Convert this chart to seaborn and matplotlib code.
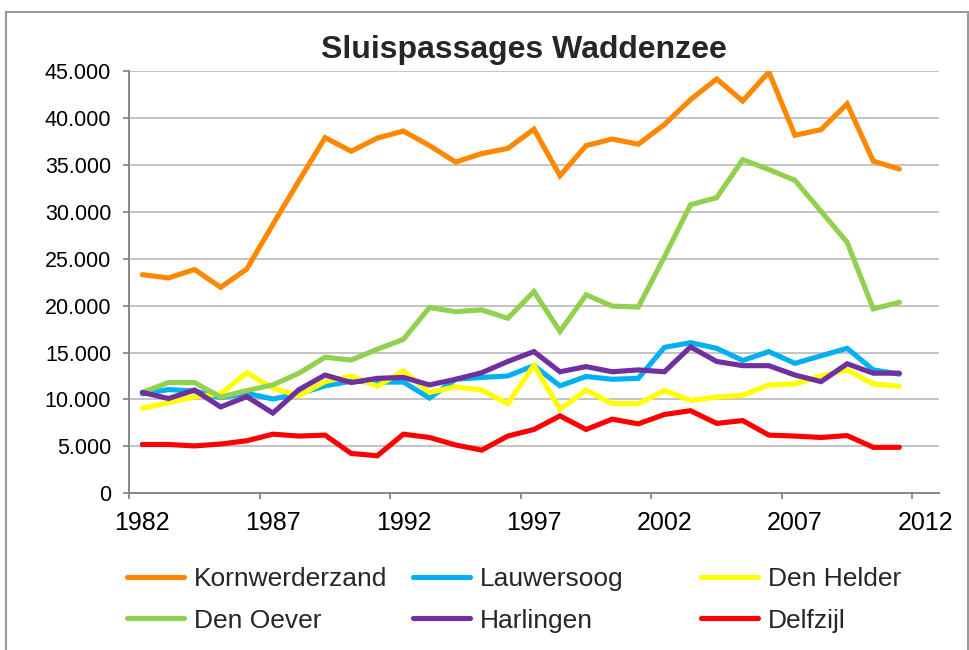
import numpy as np
import pandas as pd
import matplotlib
matplotlib.use("Agg")
import matplotlib.pyplot as plt
import matplotlib.ticker as mticker
from matplotlib.patches import Rectangle
import seaborn as sns

years = [1982, 1983, 1984, 1985, 1986, 1987, 1988, 1989, 1990, 1991,
         1992, 1993, 1994, 1995, 1996, 1997, 1998, 1999, 2000, 2001,
         2002, 2003, 2004, 2005, 2006, 2007, 2008, 2009, 2010, 2011]

kornwerderzand = [23300, 22950, 23850, 21950, 23900, 28650, 33300, 37900, 36450, 37850,
                  38600, 37050, 35300, 36200, 36750, 38800, 33850, 37050, 37750, 37200,
                  39300, 41950, 44150, 41800, 44900, 38150, 38750, 41500, 35400, 34550]
lauwersoog = [10600, 11050, 10900, 10200, 10650, 10050, 10600, 11450, 11950, 11850,
              11850, 10150, 12150, 12350, 12500, 13600, 11450, 12450, 12150, 12250,
              15550, 16050, 15450, 14150, 15100, 13850, 14650, 15450, 13150, 12700]
den_helder = [9050, 9650, 10300, 10600, 12850, 11200, 10400, 11900, 12500, 11400,
              13050, 10750, 11350, 11000, 9550, 13650, 8950, 11000, 9550, 9550,
              10950, 9900, 10250, 10450, 11550, 11650, 12500, 13150, 11650, 11400]
den_oever = [10750, 11800, 11800, 10250, 10950, 11550, 12800, 14500, 14200, 15350,
             16400, 19800, 19350, 19550, 18650, 21500, 17250, 21150, 19950, 19850,
             25200, 30750, 31500, 35550, 34500, 33350, 30050, 26750, 19650, 20350]
harlingen = [10750, 10100, 11000, 9200, 10300, 8550, 11050, 12600, 11800, 12250,
             12350, 11550, 12150, 12850, 14050, 15100, 12950, 13500, 12950, 13150,
             12950, 15600, 14050, 13600, 13600, 12600, 11900, 13800, 12800, 12800]
delfzijl = [5200, 5200, 5050, 5250, 5600, 6300, 6100, 6200, 4250, 4000,
            6300, 5950, 5150, 4600, 6100, 6800, 8250, 6800, 7900, 7400,
            8400, 8800, 7450, 7750, 6200, 6100, 5950, 6150, 4900, 4900]

series_names = ["Kornwerderzand", "Lauwersoog", "Den Helder", "Den Oever", "Harlingen", "Delfzijl"]
series_values = [kornwerderzand, lauwersoog, den_helder, den_oever, harlingen, delfzijl]
colors = ["#FF8800", "#00B0F0", "#FFFF00", "#92D050", "#7030A0", "#FF0000"]

x_ticklabels = ["1982", "1987", "1992", "1997", "2002", "2007", "2012"]
y_ticks = [0, 5000, 10000, 15000, 20000, 25000, 30000, 35000, 40000, 45000]

title = "Sluispassages Waddenzee"

frames = []
for name, vals in zip(series_names, series_values):
    frames.append(pd.DataFrame({"Jaar": years, "Passages": vals, "Sluis": name}))
df = pd.concat(frames, ignore_index=True)

sns.set_style("white")
plt.rcParams["font.family"] = ["Liberation Sans", "DejaVu Sans"]

W, H = 970, 650
fig = plt.figure(figsize=(W / 100, H / 100), dpi=100)
ax = fig.add_axes([129.3 / W, 1 - 493.3 / H, (938.5 - 129.3) / W, (493.3 - 71) / H])

sns.lineplot(data=df, x="Jaar", y="Passages", hue="Sluis", hue_order=series_names,
             palette=colors, linewidth=3.7, ax=ax, legend="auto",
             solid_capstyle="round", solid_joinstyle="miter")

handles, labels = ax.get_legend_handles_labels()
if ax.get_legend() is not None:
    ax.get_legend().remove()

grid_c = "#C4C4C4"
axis_c = "#878787"
ax.set_ylim(0, 45000)
ax.set_xlim(1981.5, 2012.5)
ax.set_yticks(y_ticks)
ax.yaxis.set_major_formatter(mticker.FuncFormatter(lambda v, p: f"{int(v):,}".replace(",", ".")))
ax.set_xticks([int(t) for t in x_ticklabels])
ax.set_xticklabels(x_ticklabels)
ax.set_xticks([int(t) - 0.5 for t in x_ticklabels], minor=True)
ax.tick_params(axis="x", which="major", length=0, pad=13, labelsize=18, colors="black")
ax.tick_params(axis="x", which="minor", length=4, width=1.3, color=axis_c, direction="out", bottom=True)
ax.tick_params(axis="y", which="major", length=4, width=1.3, color=axis_c, direction="out",
               pad=9, labelsize=15.5, labelcolor="black", left=True)
ax.grid(axis="y", color=grid_c, linewidth=1.4)
ax.grid(axis="x", visible=False)
ax.set_axisbelow(True)
for s in ["top", "right"]:
    ax.spines[s].set_visible(False)
for s in ["left", "bottom"]:
    ax.spines[s].set_color(axis_c)
    ax.spines[s].set_linewidth(1.4)
ax.set_xlabel("")
ax.set_ylabel("")

fig.text(524 / W, 1 - 58 / H, title, ha="center", va="baseline", fontsize=23, fontweight="bold")

hmap = dict(zip(labels, handles))
cols = [["Kornwerderzand", "Den Oever"], ["Lauwersoog", "Harlingen"], ["Den Helder", "Delfzijl"]]
col_x = [127, 413, 701]
for cx, names in zip(col_x, cols):
    hs = []
    for n in names:
        h = hmap[n]
        h.set_linewidth(3.7)
        hs.append(h)
    fig.legend(hs, names, loc="center left", bbox_to_anchor=(cx / W, 1 - 600 / H),
               frameon=False, fontsize=19, handlelength=2.15, handletextpad=0.38,
               borderpad=0, borderaxespad=0, labelspacing=0.65)

fig.add_artist(Rectangle((6 / W, -0.02), 962 / W, 1 - 12 / H + 0.02, transform=fig.transFigure,
                         fill=False, edgecolor="#9A9A9A", linewidth=1.5))

fig.savefig("out.png", dpi=100)
